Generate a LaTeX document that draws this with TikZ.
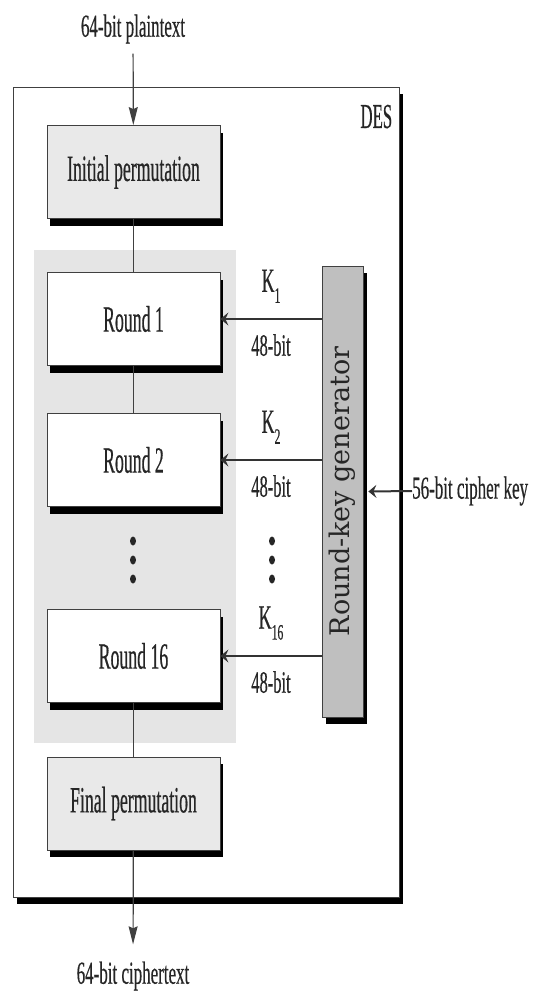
\documentclass[tikz,border=0pt]{standalone}
\usepackage{fontspec}
\setmainfont{Liberation Serif}
\newfontfamily\condfont[FakeStretch=0.48,FakeBold=0.4]{Liberation Serif}
\newfontfamily\lblfont[FakeStretch=0.53,FakeBold=0.4]{Liberation Serif}
\newfontfamily\genfont{DejaVu Serif}
\usetikzlibrary{arrows.meta,positioning,calc,shadows}

\newcommand\keylbl[1]{K\raisebox{-0.32em}{\fontsize{22}{22}\selectfont #1}}

\begin{document}
\begin{tikzpicture}[x=1pt,y=-1pt,
  >={Stealth[length=18pt,width=9pt,inset=2pt]},
  hardshadow/.style={drop shadow={shadow xshift=#1,shadow yshift=-7pt,fill=black,opacity=1}},
  stagebox/.style={draw=black!75,line width=0.8pt,fill=gray!17,inner sep=0pt,
    minimum width=173pt,minimum height=93pt,hardshadow=3pt,
    font=\condfont\fontsize{37}{40}\selectfont,text=black!85},
  roundbox/.style={stagebox,fill=white},
  lbl/.style={font=\lblfont\fontsize{32}{34}\selectfont,text=black!85,inner sep=0pt},
  conn/.style={line width=1.2pt,black!75},
  keyarrow/.style={-{Stealth[length=8pt,width=13pt,inset=3pt]},line width=1.2pt,black!80}]

\useasboundingbox (0,0) rectangle (536,991);

%% DES frame
\node[draw=black!75,line width=0.8pt,fill=white,minimum width=386pt,minimum height=810pt,
  drop shadow={shadow xshift=4pt,shadow yshift=-7pt,fill=black,opacity=1}] (des) at (206,492) {};
\node[lbl,font=\condfont\fontsize{35}{36}\selectfont,anchor=north east] (deslbl)
  at ([xshift=-7pt,yshift=-18pt]des.north east) {DES};

%% shaded area behind the rounds
\fill[gray!20] (34,250) rectangle (236,743);

%% permutation and round boxes
\node[stagebox] (ip) at (133.5,172) {Initial permutation};
\node[roundbox] (r1) at (133.5,319) {Round 1};
\node[roundbox] (r2) at (133.5,460) {Round 2};
\node[roundbox] (r16) at (133.5,656) {Round 16};
\node[stagebox] (fp) at (133.5,803.5) {Final permutation};

%% round-key generator
\node[draw=black!75,line width=0.8pt,fill=gray!50,minimum width=41pt,minimum height=451pt,
  inner sep=0pt,hardshadow=4pt] (gen) at (342.5,491.5)
  {\rotatebox{90}{\genfont\fontsize{27}{28}\selectfont\color{black!85}Round-key generator}};

%% input / output
\node[lbl] (plain) at (133,29) {64-bit plaintext};
\node[lbl] (cipher) at (133,976) {64-bit ciphertext};
\node[lbl,anchor=west] (key) at (412,491) {56-bit cipher key};

\draw[conn,->,shorten <=10pt] (plain) -- (ip);
\draw[conn] (ip) -- (r1);
\draw[conn] (r1) -- (r2);
\draw[conn] (r16) -- (fp);
\draw[conn,->,shorten >=17pt] (fp) -- (cipher.north);
\draw[keyarrow,line width=2pt] (key.west) -- ([xshift=5pt]gen.east);

%% round keys
\foreach \r/\k in {r1/1, r2/2, r16/16}{
  \draw[keyarrow] (gen.west |- \r) -- (\r.east);
  \coordinate (m\k) at ($(\r.east)!0.5!(gen.west |- \r)$);
  \node[lbl,font=\lblfont\fontsize{34}{36}\selectfont,above=16pt of m\k] (k\k) {\keylbl{\k}};
  \node[lbl,font=\lblfont\fontsize{31}{33}\selectfont,below=15pt of m\k] (b\k) {48-bit};
}

%% vertical dots
\foreach \y in {541,560,579}{
  \fill[black!85] (133,\y) ellipse [x radius=3pt,y radius=4.5pt];
  \fill[black!85] (272,\y) ellipse [x radius=3pt,y radius=4.5pt];
}

\end{tikzpicture}
\end{document}
